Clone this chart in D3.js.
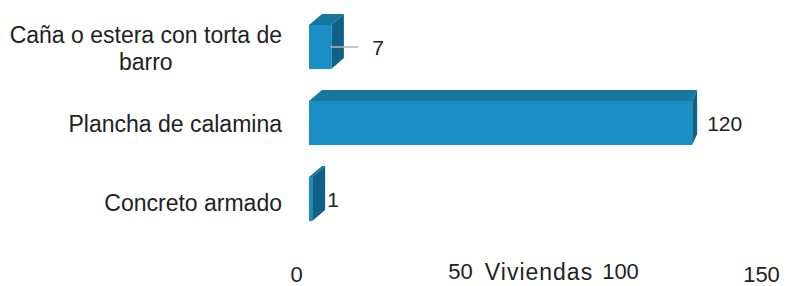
<!DOCTYPE html>
<html>
<head>
<meta charset="utf-8">
<script src="https://cdn.jsdelivr.net/npm/d3@7"></script>
<style>
  body { margin: 0; background: #fff; }
  svg { display: block; font-family: "Liberation Sans", Arial, sans-serif; }
</style>
</head>
<body>
<svg id="chart"></svg>
<script>
// data
const categories = ["Caña o estera con torta de barro", "Plancha de calamina", "Concreto armado"];
const values = [7, 120, 1];
const tickValues = [0, 50, 100, 150];
const axisTitle = "Viviendas";

const width = 800, height = 286;
const svg = d3.select("#chart").attr("width", width).attr("height", height);

const frontColor = "#1b8ec6", topColor = "#17779f", sideColor = "#0f6286";
const textColor = "#222";
const fontSize = 23;
const depthY = -11;

const x = d3.scaleLinear().domain([0, 150]).range([309, 788]);
// floor of the 3D box is foreshortened, tick labels follow it
const xFloor = d3.scaleLinear().domain(tickValues).range([296, 460, 620, 761]);
const y = d3.scaleBand().domain(categories).range([9, 237]).paddingInner(0.42).paddingOuter(0.21);

// crude perspective: depth offset shrinks to the right
const depthX = px => 13 - (px - 309) * 0.021;

const rows = categories.map((c, i) => ({cat: c, value: values[i], i: i}));

const bars = svg.append("g").selectAll("g")
  .data(rows).enter()
  .append("g");

bars.append("polygon")
  .attr("fill", topColor)
  .attr("points", d => {
    const x0 = x(0), x1 = x(d.value), y0 = y(d.cat);
    return [[x0, y0], [x1, y0], [x1 + depthX(x1), y0 + depthY], [x0 + depthX(x0), y0 + depthY]].join(" ");
  });

bars.append("polygon")
  .attr("fill", sideColor)
  .attr("points", d => {
    const x1 = x(d.value), y0 = y(d.cat), y1 = y0 + y.bandwidth();
    const bx = x1 + depthX(x1);
    return [[x1, y0], [bx, y0 + depthY], [bx, y1 + depthY], [x1, y1]].join(" ");
  });

bars.append("rect")
  .attr("fill", frontColor)
  .attr("x", x(0))
  .attr("y", d => y(d.cat))
  .attr("width", d => x(d.value) - x(0))
  .attr("height", y.bandwidth());

// value labels; the small "7" one was pulled out with a leader line
const leaderShift = 26;
bars.filter(d => d.i === 0).append("line")
  .attr("x1", d => x(d.value) - 1)
  .attr("x2", d => x(d.value) + leaderShift + 1)
  .attr("y1", d => y(d.cat) + y.bandwidth() / 2)
  .attr("y2", d => y(d.cat) + y.bandwidth() / 2)
  .attr("stroke", "#b5b5b5")
  .attr("stroke-width", 1.5);

bars.append("text")
  .attr("x", d => x(d.value) + 15 + (d.i === 0 ? leaderShift : 0))
  .attr("y", d => y(d.cat) + y.bandwidth() / 2 + 8)
  .attr("font-size", 21)
  .attr("fill", textColor)
  .text(d => d.value);

// category labels, wrapped the Excel way (lines centred, block right-aligned)
const labelRight = 282;
const labelWrap = {"Caña o estera con torta de barro": ["Caña o estera con torta de", "barro"]};
const lineH = 27;
svg.append("g").selectAll("text")
  .data(categories).enter()
  .append("text")
  .attr("font-size", fontSize)
  .attr("fill", textColor)
  .each(function(c, i) {
    const lines = labelWrap[c] || [c];
    const t = d3.select(this);
    const cy = y(c) + y.bandwidth() / 2;
    const first = cy - (lines.length - 1) * lineH / 2 + 9 + (i === 2 ? 3 : 0);
    const spans = lines.map((l, k) => t.append("tspan").attr("y", first + k * lineH).text(l));
    const widths = spans.map(s => s.node().getComputedTextLength());
    const maxW = d3.max(widths);
    const mid = labelRight - maxW / 2;
    spans.forEach(s => s.attr("x", mid).attr("text-anchor", "middle"));
  });

// value axis, no line and no tick marks
const axis = svg.append("g")
  .attr("transform", "translate(0,266)")
  .call(d3.axisBottom(xFloor).tickValues(tickValues).tickSize(0).tickPadding(0));
axis.select(".domain").remove();
axis.selectAll("text")
  .attr("font-size", 22)
  .attr("font-family", "\"Liberation Sans\", Arial, sans-serif")
  .attr("fill", textColor)
  .attr("dy", d => (d === 50 || d === 100) ? "0.6em" : "0.71em");

svg.append("text")
  .attr("x", 539)
  .attr("y", 280)
  .attr("text-anchor", "middle")
  .attr("font-size", 23)
  .attr("letter-spacing", 1)
  .attr("fill", textColor)
  .text(axisTitle);
</script>
</body>
</html>
